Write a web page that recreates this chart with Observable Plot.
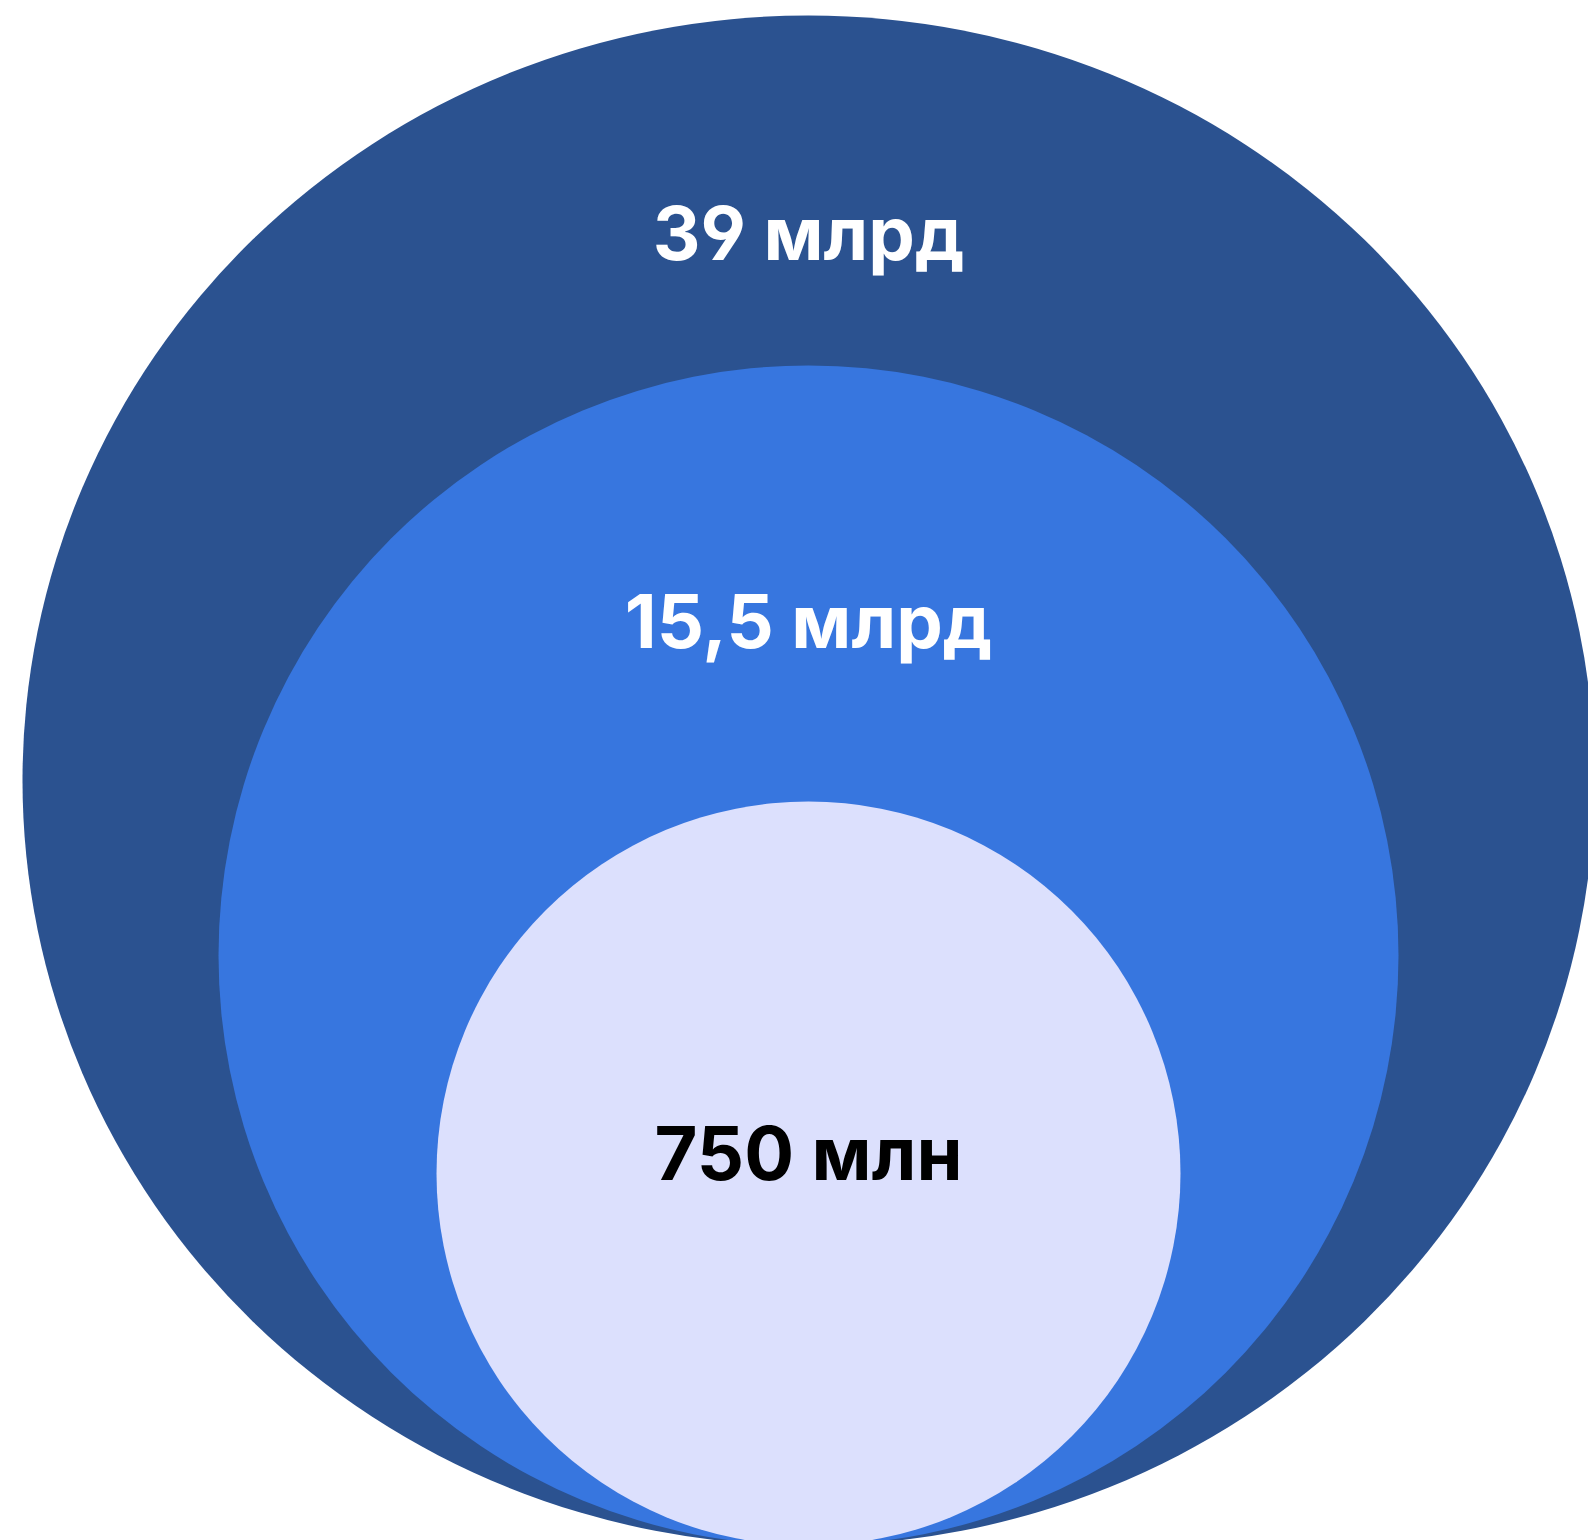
<!DOCTYPE html>
<html>
<head>
<meta charset="utf-8">
<script src="https://cdn.jsdelivr.net/npm/d3@7"></script>
<script src="https://cdn.jsdelivr.net/npm/@observablehq/plot@0.6"></script>
<style>
  html, body { margin: 0; padding: 0; background: #ffffff; }
  #chart { width: 1588px; height: 1540px; overflow: hidden; }
  #chart text { font-feature-settings: "cv04" 1, "cv03" 1; }
</style>
</head>
<body>
<div id="chart"></div>
<script>
// ---- data ----
const values = [39, 15.5, 0.75];            // billions
const labels = ["39 млрд", "15,5 млрд", "750 млн"];
const fills = ["#2B5290", "#3776DF", "#DCE0FD"];
const textColors = ["#ffffff", "#ffffff", "#000000"];

// ---- layout ----
const W = 1588, H = 1540;
const BASE = 1545;                     // common bottom of circles (slightly below the frame)
const R_RANGE = [372, 590, 765];       // radii for sorted values
const LABEL_BELOW_TOP = [244, 282, 378];
const OUTER_STRETCH_X = 786 / 765;     // outer shape is slightly wider than tall
const CENTER_DX = 14;                  // circles centred at x ≈ 808

const data = values.map((v, i) => ({ value: v, label: labels[i], fill: fills[i], color: textColors[i], i }));

const rScale = d3.scaleLinear().domain([0.75, 15.5, 39]).range(R_RANGE);

const FONT = "Inter, 'Noto Sans', sans-serif";

const chart = Plot.plot({
  width: W,
  height: H,
  margin: 0,
  style: { background: "transparent", fontFamily: FONT },
  y: { type: "identity", axis: null },
  r: { type: "linear", domain: [0.75, 15.5, 39], range: R_RANGE },
  marks: [
    Plot.dot(data, {
      y: d => BASE - rScale(d.value),
      r: "value",
      fill: d => d.fill,
      stroke: null,
      dx: CENTER_DX
    }),
    Plot.text(data, {
      y: d => BASE - 2 * rScale(d.value) + LABEL_BELOW_TOP[d.i],
      text: "label",
      fill: d => d.color,
      dx: CENTER_DX,
      lineAnchor: "bottom",
      textAnchor: "middle",
      fontSize: 74,
      fontWeight: 700,
      fontFamily: FONT
    })
  ]
});

document.getElementById("chart").appendChild(chart);

// Outer shape: stretch horizontally into an ellipse
d3.select(chart).selectAll("circle").each(function() {
  const r = +this.getAttribute("r");
  if (Math.abs(r - R_RANGE[2]) < 1) {
    const cx = +this.getAttribute("cx") || 0, cy = +this.getAttribute("cy") || 0;
    this.setAttribute("transform", `translate(${cx},${cy}) scale(${OUTER_STRETCH_X},1) translate(${-cx},${-cy})`);
  }
});
</script>
</body>
</html>
